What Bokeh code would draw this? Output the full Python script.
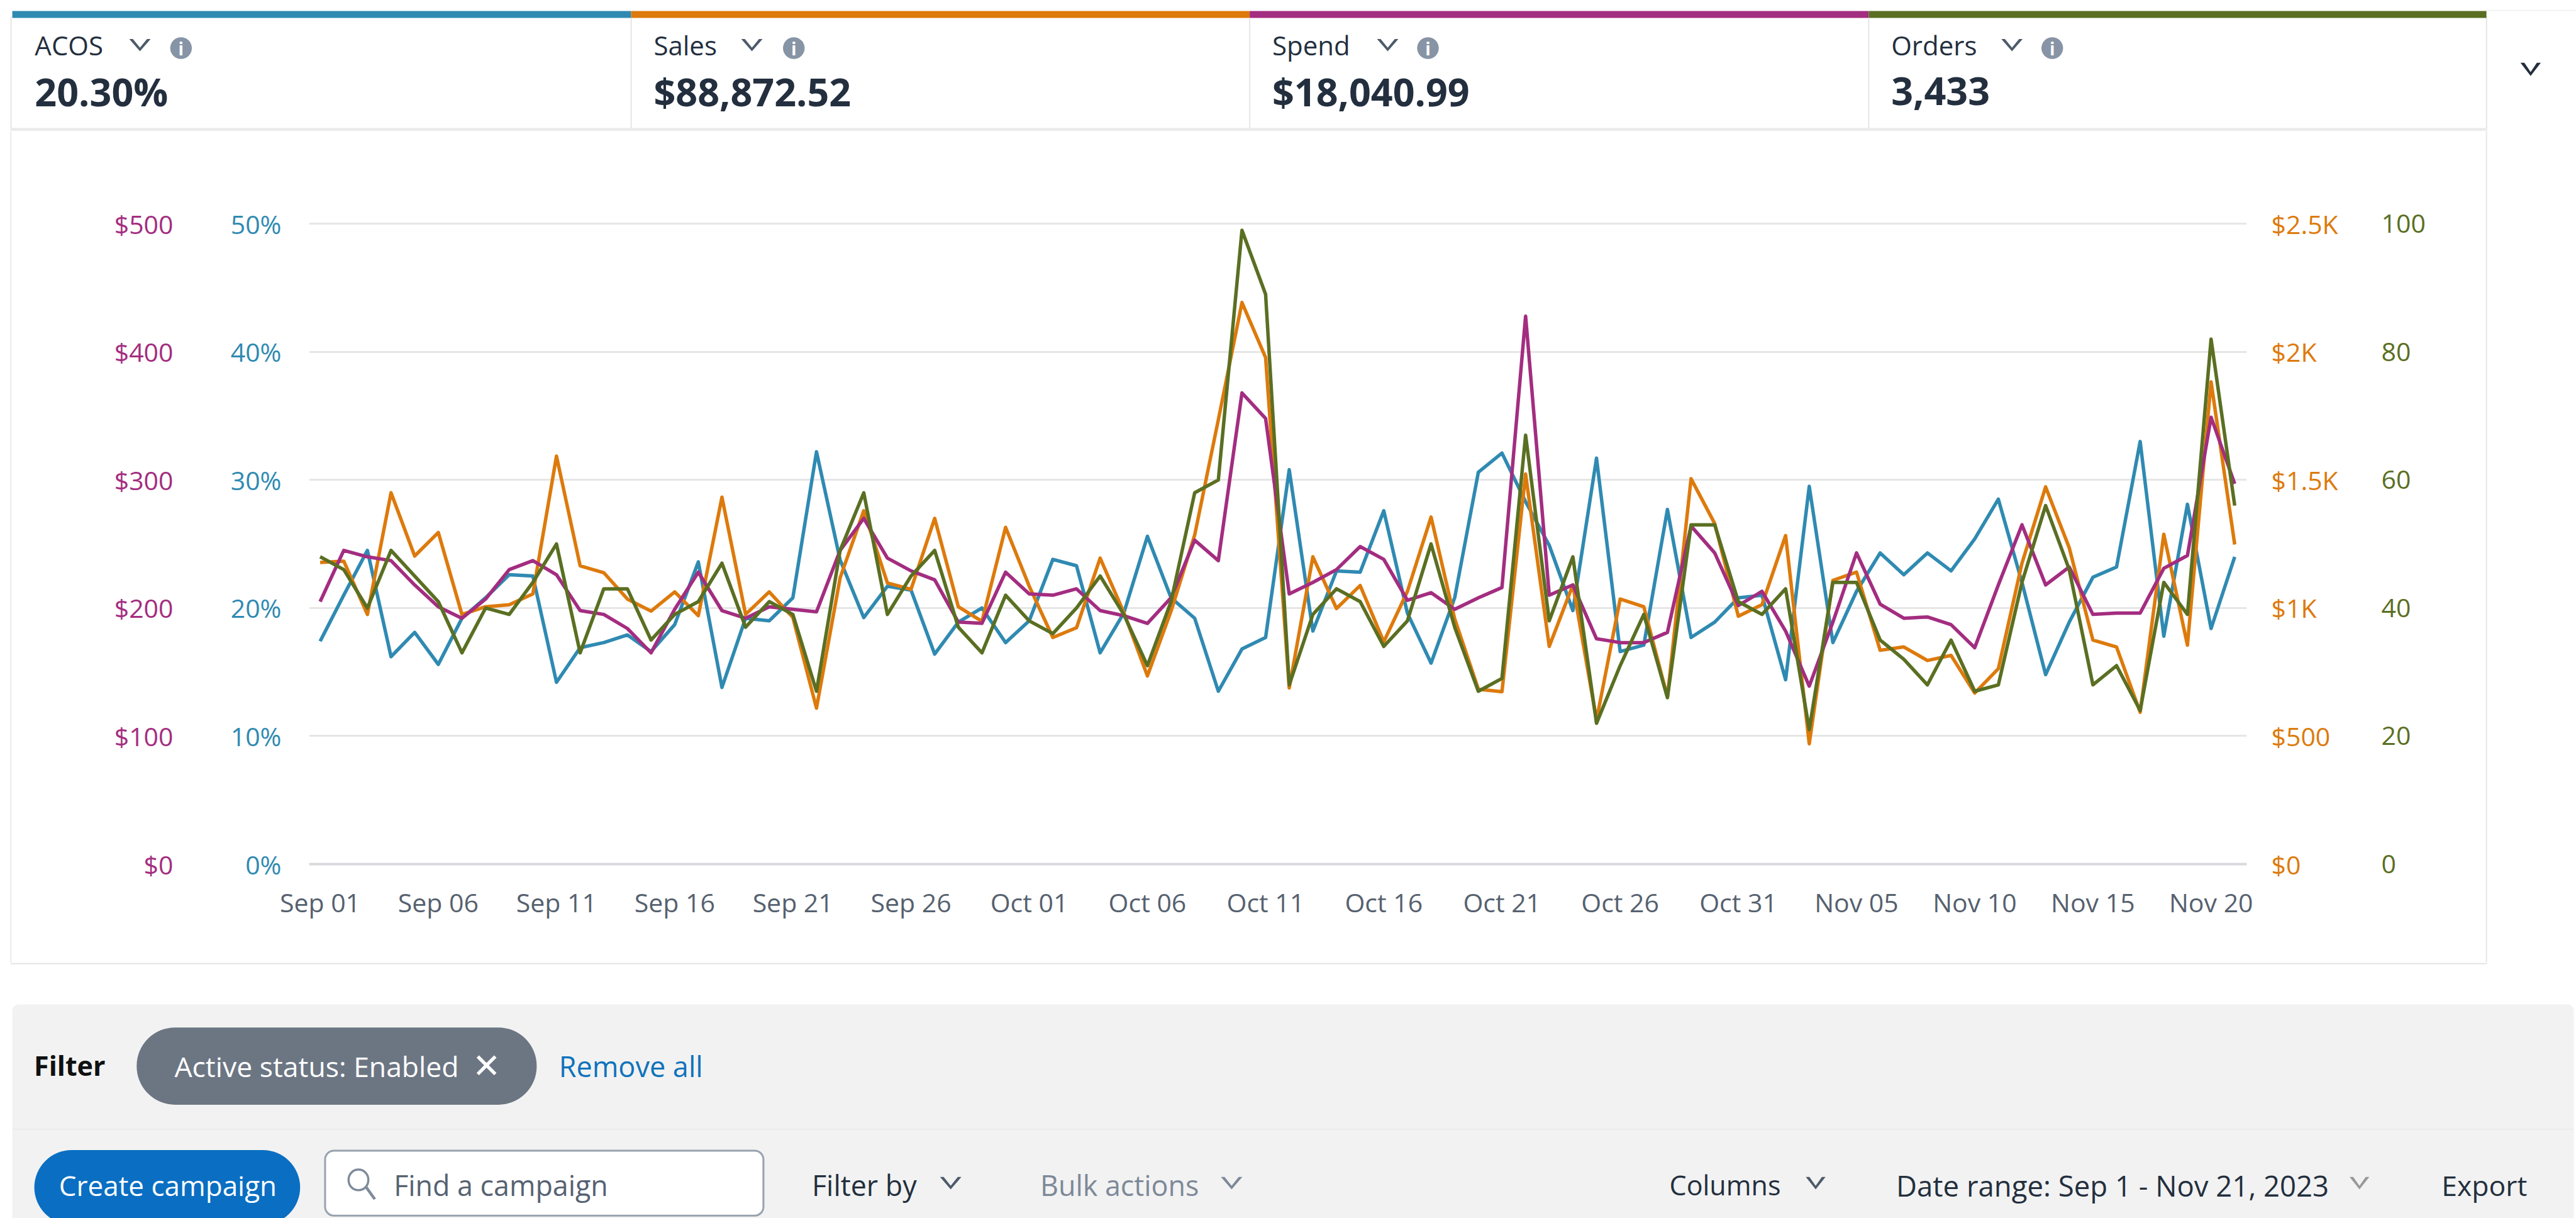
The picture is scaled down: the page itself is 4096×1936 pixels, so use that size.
from bokeh.plotting import figure
from bokeh.layouts import column, row
from bokeh.embed import file_html
from bokeh.resources import INLINE
from bokeh.core.properties import value
from bokeh.models import Range1d, LinearAxis, FixedTicker, Grid

day_labels = ["Sep 01", "Sep 06", "Sep 11", "Sep 16", "Sep 21", "Sep 26", "Oct 01", "Oct 06", "Oct 11",
              "Oct 16", "Oct 21", "Oct 26", "Oct 31", "Nov 05", "Nov 10", "Nov 15", "Nov 20"]
day_ticks = [0, 5, 10, 15, 20, 25, 30, 35, 40, 45, 50, 55, 60, 65, 70, 75, 80]

acos = [17.4, 21.0, 24.5, 16.2, 18.1, 15.6, 19.2, 20.8, 22.6, 22.5, 14.2, 16.9, 17.3, 17.9, 16.6, 18.7, 23.6, 13.8, 19.2, 19.0, 20.8, 32.2,
        23.75, 19.25, 21.7, 21.4, 16.4, 18.9, 20.0, 17.3, 19.0, 23.8, 23.3, 16.5, 19.6, 25.6, 20.8, 19.2, 13.5, 16.8, 17.7, 30.8, 18.2, 22.9, 22.8,
        27.6, 19.6, 15.7, 20.8, 30.6, 32.1, 28.3, 24.9, 19.8, 31.7, 16.6, 17.1, 27.7, 17.7, 18.9, 20.8, 21.0, 14.4, 29.5, 17.3, 21.3, 24.3, 22.6, 24.3,
        22.9, 25.4, 28.5, 22.0, 14.8, 18.9, 22.4, 23.2, 33.0, 17.8, 28.1, 18.4, 24.0]
sales = [1178, 1183, 975, 1450, 1203, 1295, 975, 1005, 1013, 1055, 1593, 1165, 1138, 1035, 988, 1063, 970, 1433, 975, 1063, 963, 609,
         1118, 1380, 1098, 1073, 1350, 1005, 948, 1315, 1085, 885, 923, 1195, 983, 735, 988, 1285, 1735, 2193, 1978, 688, 1200, 998, 1088,
         868, 1065, 1355, 958, 683, 673, 1523, 850, 1090, 563, 1035, 1005, 653, 1505, 1330, 968, 1013, 1283, 470, 1108, 1140, 835, 848, 795,
         815, 668, 763, 1175, 1473, 1235, 875, 848, 593, 1288, 855, 1883, 1248]
spend = [205, 245, 240, 237, 218, 201, 192, 207, 230, 237, 226, 198, 195, 184, 165, 199, 228, 198, 192, 201, 199, 197,
         245, 270, 239, 229, 222, 189, 188, 228, 211, 210, 215, 198, 194, 188, 208, 253, 237, 368, 348, 211, 220, 230, 248,
         238, 206, 212, 199, 208, 216, 428, 210, 218, 176, 173, 173, 181, 264, 243, 202, 213, 182, 139, 189, 243, 203, 192, 193,
         187, 169, 218, 265, 218, 232, 195, 196, 196, 231, 241, 349, 297]
orders = [48, 46, 40, 49, 45, 41, 33, 40, 39, 44, 50, 33, 43, 43, 35, 39, 41, 47, 37, 41, 39, 27,
          49, 58, 39, 45, 49, 37, 33, 42, 38, 36, 40, 45, 39, 31, 41, 58, 60, 99, 89, 28, 39, 43, 41,
          34, 38, 50, 37, 27, 29, 67, 38, 48, 22, 31, 39, 26, 53, 53, 41, 39, 43, 21, 44, 44, 35, 32, 28,
          35, 27, 28, 44, 56, 46, 28, 31, 24, 44, 39, 82, 56]
days = list(range(len(acos)))

acos_ticks = [0, 10, 20, 30, 40, 50]
acos_labels = ["0%", "10%", "20%", "30%", "40%", "50%"]
spend_ticks = [0, 100, 200, 300, 400, 500]
spend_labels = ["$0", "$100", "$200", "$300", "$400", "$500"]
sales_ticks = [0, 500, 1000, 1500, 2000, 2500]
sales_labels = ["$0", "$500", "$1K", "$1.5K", "$2K", "$2.5K"]
orders_ticks = [0, 20, 40, 60, 80, 100]
orders_labels = ["0", "20", "40", "60", "80", "100"]

kpi_names = ["ACOS", "Sales", "Spend", "Orders"]
kpi_values = ["20.30%", "$88,872.52", "$18,040.99", "3,433"]

BLUE, ORANGE, MAGENTA, GREEN = "#2f8ab2", "#dd7a0c", "#a32d80", "#5a6f22"
FONT = "Open Sans"
INK = "#232f3e"
EDGE = "#e4e4e4"
FULL_W, TOP_H, CHART_H, BOT_H = 4096, 208, 1322, 406
STRIP_L, STRIP_R = 18, 144
K = FULL_W / 1568


def chrome(height, y_top, y_bottom):
    f = figure(width=FULL_W, height=height, output_backend="svg", toolbar_location=None,
               x_range=Range1d(0, 1568), y_range=Range1d(y_bottom, y_top),
               x_axis_location=None, y_axis_location=None, min_border=0,
               outline_line_color=None, background_fill_color="white", border_fill_color="white")
    f.grid.visible = False
    f.frame_align = False
    return f


def box(f, x0, x1, y0, y1, fill, line=None, lw=0, radius=0):
    f.quad(left=[x0], right=[x1], top=[y0], bottom=[y1], fill_color=fill, line_color=line,
           line_width=lw, border_radius=radius)


def text(f, x, y, s, size, color=INK, bold=False, align="left", font=FONT):
    f.text(x=[x], y=[y], text=[s], text_font=value(font), text_font_size=value(f"{size}px"),
           text_color=color, text_font_style="bold" if bold else "normal",
           text_align=align, text_baseline="middle")


def chevron(f, x0, x1, y0, y1, color, t=2.2):
    m = (x0 + x1) / 2
    f.patch([x0, x0 + t, m, x1 - t, x1, m], [y0, y0, y1 - t, y0, y0, y1], fill_color=color, line_color=None)


# ---- KPI header
top = chrome(TOP_H, 0, TOP_H / K)
box(top, 6.2, 6.9, 10, 80, EDGE)
box(top, 1513, 1513.7, 10, 80, EDGE)
box(top, 1513, 1568, 5.8, 6.4, "#eeeeee")
bar_colors = [BLUE, ORANGE, MAGENTA, GREEN]
bar_left = [7.3, 384, 760.5, 1137.3]
bar_right = [384, 760.5, 1137.3, 1513.3]
chev_left = [78.5, 451, 838, 1218]
info_mid = [110, 483, 869, 1249]
for i in range(4):
    box(top, bar_left[i], bar_right[i], 6.5, 10.7, bar_colors[i])
    if i:
        box(top, bar_left[i] - 0.3, bar_left[i] + 0.3, 10.7, 78, "#e0e0e0")
    tx = bar_left[i] + 13.7
    text(top, tx, 27, kpi_names[i], 42)
    text(top, tx, 55.5, kpi_values[i], 61, bold=True)
    chevron(top, chev_left[i], chev_left[i] + 13, 23.5, 31, "#4d5a69", 2.2)
    box(top, info_mid[i] - 6.6, info_mid[i] + 6.6, 22.5, 35.7, "#8794a6", radius=18)
    text(top, info_mid[i], 29.2, "i", 28, "#ffffff", True, "center")
box(top, 6.2, 1513.7, 77.6, 79.6, "#ebebeb")
chevron(top, 1534, 1546.4, 38, 46, INK, 2.4)

# ---- chart
p = figure(width=FULL_W - STRIP_L - STRIP_R, height=CHART_H, output_backend="svg", toolbar_location=None,
           x_range=Range1d(-0.466, 81.51), y_range=Range1d(0, 51),
           y_axis_location=None, x_axis_location="below",
           min_border_left=473, min_border_right=380, min_border_top=127, min_border_bottom=157,
           outline_line_color=None, background_fill_color="white", border_fill_color="white")
p.frame_align = False
p.extra_y_ranges = {"spend": Range1d(0, 510), "sales": Range1d(0, 2550), "orders": Range1d(0, 102)}
p.xgrid.visible = False
p.ygrid.visible = False
p.add_layout(Grid(dimension=1, ticker=FixedTicker(ticks=acos_ticks), grid_line_color="#e6e6e6", grid_line_width=3))


def style_axis(ax, ticks, labels, color, standoff):
    ax.ticker = FixedTicker(ticks=ticks)
    ax.major_label_overrides = dict(zip(ticks, labels))
    ax.major_tick_line_color = None
    ax.minor_tick_line_color = None
    ax.axis_line_color = None
    ax.major_label_text_color = color
    ax.major_label_text_font = FONT
    ax.major_label_text_font_size = "41px"
    ax.major_label_standoff = standoff


xa = p.xaxis[0]
style_axis(xa, day_ticks, day_labels, "#56616f", 26)
xa.axis_line_color = "#d8dadd"
xa.axis_line_width = 4

a_left = LinearAxis()
style_axis(a_left, acos_ticks, acos_labels, BLUE, 38)
p.add_layout(a_left, "left")
s_left = LinearAxis(y_range_name="spend")
style_axis(s_left, spend_ticks, spend_labels, MAGENTA, 82)
p.add_layout(s_left, "left")
sa_right = LinearAxis(y_range_name="sales")
style_axis(sa_right, sales_ticks, sales_labels, ORANGE, 33)
p.add_layout(sa_right, "right")
o_right = LinearAxis(y_range_name="orders")
style_axis(o_right, orders_ticks, orders_labels, GREEN, 60)
p.add_layout(o_right, "right")

LW = 5.5
p.line(days, acos, line_color=BLUE, line_width=LW, line_join="round")
p.line(days, sales, line_color=ORANGE, line_width=LW, y_range_name="sales", line_join="round")
p.line(days, spend, line_color=MAGENTA, line_width=LW, y_range_name="spend", line_join="round")
p.line(days, orders, line_color=GREEN, line_width=LW, y_range_name="orders", line_join="round")


def strip(width, x0, x1):
    f = figure(width=width, height=CHART_H, output_backend="svg", toolbar_location=None,
               x_range=Range1d(0, width), y_range=Range1d(0, 1),
               x_axis_location=None, y_axis_location=None, min_border=0,
               outline_line_color=None, background_fill_color="white", border_fill_color="white")
    f.grid.visible = False
    f.frame_align = False
    f.quad(left=[x0], right=[x1], top=[1], bottom=[0], fill_color=EDGE, line_color=None)
    return f


left_strip = strip(STRIP_L, 16, 18)
right_strip = strip(STRIP_R, 0, 2)

# ---- filter panel
bot = chrome(BOT_H, (TOP_H + CHART_H) / K, 1936 / K)
box(bot, 6.2, 1513.7, 585.7, 586.6, EDGE)
box(bot, 7.3, 1566.5, 611, 750, "#f2f2f2", radius=10)
box(bot, 7.3, 1566.5, 686.5, 687.3, "#ececec")
text(bot, 20.5, 648, "Filter", 43, "#0f1111", True)
box(bot, 83, 326.5, 625, 672, "#6c7683", radius=61)
text(bot, 106, 648.5, "Active status: Enabled", 44.5, "#ffffff")
text(bot, 296, 648.5, "\u2715", 54, "#ffffff", True, "center", "DejaVu Sans")
text(bot, 340, 648.5, "Remove all", 45, "#0f73bb")
box(bot, 20.7, 182.5, 699.6, 745, "#0a6fc2", radius=60)
text(bot, 102, 721, "Create campaign", 44, "#ffffff", False, "center")
box(bot, 197.7, 464.5, 700, 739.5, "#ffffff", "#98a2af", 3, radius=14)
box(bot, 212, 224, 711.5, 724, "#ffffff", "#7f8b9a", 3.5, radius=18)
bot.patch([221.7, 223.2, 228.7, 227.2], [722.3, 721.4, 729.1, 729.9], fill_color="#7f8b9a", line_color=None)
text(bot, 239.5, 721, "Find a campaign", 44.8, "#566271")
text(bot, 494, 721, "Filter by", 44.8)
chevron(bot, 572, 585, 716, 723.5, "#4d5a69")
text(bot, 633, 721, "Bulk actions", 44.8, "#7d8998")
chevron(bot, 743, 756, 716, 723.5, "#7d8998")
text(bot, 1016, 721, "Columns", 43)
chevron(bot, 1099, 1111, 716, 723.5, "#4d5a69")
text(bot, 1154, 721, "Date range: Sep 1 - Nov 21, 2023", 45.5)
chevron(bot, 1430, 1442, 716, 723.5, "#999999")
text(bot, 1486, 721, "Export", 44.5)

layout = column(top, row(left_strip, p, right_strip, spacing=0), bot, spacing=0)
open("out.html", "w").write(file_html(layout, INLINE))
